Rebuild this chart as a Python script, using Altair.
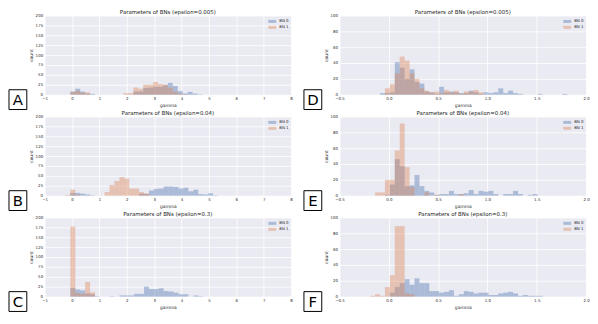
import altair as alt
import pandas as pd

# ---------------- data (bin left edges and counts) -------------
series = ["BN 0", "BN 1"]
titles = ["Parameters of BNs (epsilon=0.005)", "Parameters of BNs (epsilon=0.04)",
          "Parameters of BNs (epsilon=0.3)"]
letters_left = ["A", "B", "C"]
letters_right = ["D", "E", "F"]

left_bin_width = 0.18
right_bin_width = 0.05

left_x_ticks = [-1, 0, 1, 2, 3, 4, 5, 6, 7, 8]
left_y_ticks = [0, 25, 50, 75, 100, 125, 150, 175, 200]
right_x_ticks = [-0.5, 0.0, 0.5, 1.0, 1.5, 2.0]
right_y_ticks = [0, 20, 40, 60, 80, 100]

# Panel A (epsilon=0.005, left)
a_bn0_x0 = [-0.06, 0.12, 0.30, 0.48, 0.66, 2.24, 2.42, 2.60, 2.78, 2.96, 3.14, 3.32, 3.50, 3.68, 3.86, 4.04, 4.22, 4.40, 4.58]
a_bn0_n = [8, 15, 8, 3, 2, 8, 8, 17, 18, 20, 20, 24, 30, 22, 9, 3, 7, 3, 1]
a_bn1_x0 = [-0.06, 0.12, 0.30, 0.48, 1.88, 2.06, 2.24, 2.42, 2.60, 2.78, 2.96, 3.14, 3.32, 3.50, 3.68, 3.86, 4.04]
a_bn1_n = [7, 10, 5, 6, 4, 4, 18, 15, 25, 25, 32, 27, 25, 18, 8, 3, 1]

# Panel B (epsilon=0.04, left)
b_bn0_x0 = [-0.06, 0.12, 0.30, 0.48, 0.66, 2.45, 2.63, 2.81, 2.99, 3.17, 3.35, 3.53, 3.71, 3.89, 4.07, 4.25, 4.43, 4.61, 4.79, 4.97, 5.15]
b_bn0_n = [7, 7, 5, 3, 1, 5, 4, 13, 17, 18, 23, 23, 22, 18, 20, 11, 15, 4, 3, 6, 1]
b_bn1_x0 = [-0.24, -0.06, 0.12, 1.19, 1.37, 1.55, 1.73, 1.91, 2.09, 2.27, 2.45, 2.63]
b_bn1_n = [2, 15, 2, 9, 27, 37, 47, 43, 18, 18, 9, 6]

# Panel C (epsilon=0.3, left)
c_bn0_x0 = [-0.06, 0.12, 0.30, 0.48, 0.66, 0.84, 1.37, 1.73, 1.91, 2.09, 2.27, 2.45, 2.63, 2.81, 2.99, 3.17, 3.35, 3.53, 3.71, 3.89, 4.07, 4.43, 4.61]
c_bn0_n = [22, 18, 16, 8, 6, 1, 1, 3, 3, 3, 7, 7, 25, 19, 19, 21, 14, 13, 10, 6, 6, 3, 1]
c_bn1_x0 = [-0.06, 0.12, 0.30, 0.48, 0.66]
c_bn1_n = [177, 9, 7, 37, 11]

# Panel D (epsilon=0.005, right)
d_bn0_x0 = [-0.09, -0.04, 0.01, 0.06, 0.11, 0.16, 0.21, 0.26, 0.31, 0.36, 0.41, 0.46, 0.51, 0.56, 0.61, 0.66, 0.71, 0.76, 0.81, 0.86, 0.91, 0.96, 1.01, 1.06, 1.11, 1.16, 1.21, 1.26, 1.31, 1.51, 1.76]
d_bn0_n = [2, 2, 3, 41, 34, 20, 32, 16, 14, 4, 3, 1, 10, 3, 4, 3, 2, 2, 5, 3, 1, 3, 2, 3, 8, 2, 5, 2, 1, 1, 1]
d_bn1_x0 = [-0.04, 0.01, 0.06, 0.11, 0.16, 0.21, 0.26, 0.31, 0.36, 0.41, 0.46, 0.51, 0.56, 0.61, 0.66, 0.71, 0.76, 0.81, 0.86, 0.91]
d_bn1_n = [8, 13, 27, 48, 43, 27, 20, 8, 5, 3, 4, 2, 6, 3, 5, 1, 4, 4, 6, 3]

# Panel E (epsilon=0.04, right)
e_bn0_x0 = [-0.04, 0.01, 0.06, 0.11, 0.16, 0.21, 0.26, 0.31, 0.36, 0.41, 0.46, 0.51, 0.56, 0.61, 0.66, 0.71, 0.76, 0.81, 0.86, 0.91, 0.96, 1.01, 1.06, 1.16, 1.21, 1.26, 1.31, 1.41, 1.46]
e_bn0_n = [1, 14, 46, 37, 12, 13, 26, 12, 6, 4, 1, 2, 2, 6, 2, 2, 3, 7, 2, 6, 5, 6, 2, 2, 2, 6, 2, 1, 2]
e_bn1_x0 = [-0.14, -0.09, -0.04, 0.01, 0.06, 0.11, 0.16, 0.21, 0.36, 0.46, 0.71]
e_bn1_n = [4, 4, 20, 20, 57, 91, 36, 11, 4, 1, 2]

# Panel F (epsilon=0.3, right)
f_bn0_x0 = [0.01, 0.06, 0.11, 0.16, 0.21, 0.26, 0.31, 0.36, 0.41, 0.46, 0.51, 0.56, 0.61, 0.66, 0.71, 0.76, 0.81, 0.86, 0.91, 0.96, 1.01, 1.06, 1.11, 1.16, 1.21, 1.26, 1.31, 1.36, 1.41, 1.46, 1.51]
f_bn0_n = [5, 12, 17, 22, 15, 23, 17, 17, 7, 7, 5, 6, 8, 1, 3, 7, 6, 4, 5, 5, 2, 2, 4, 5, 6, 4, 1, 2, 1, 1, 1]
f_bn1_x0 = [-0.19, -0.14, -0.09, -0.04, 0.01, 0.06, 0.11, 0.16, 0.21]
f_bn1_n = [1, 3, 1, 12, 27, 89, 89, 4, 3]

# ---------------- styling ----------------
FONT = "DejaVu Sans"
TXT = "#262626"
COLORS = ["#4C72B0", "#DD8452"]
PLOT_W = 249
PLOT_H = 80


def frame(bn0_x0, bn0_n, bn1_x0, bn1_n):
    rows = []
    for x0, n in zip(bn0_x0, bn0_n):
        rows.append({"series": series[0], "x0": x0, "count": n})
    for x0, n in zip(bn1_x0, bn1_n):
        rows.append({"series": series[1], "x0": x0, "count": n})
    return pd.DataFrame(rows)


def panel(df, width_bin, xdom, xticks, ydom, yticks, xfmt, title, letter):
    bars = alt.Chart(df).transform_calculate(
        x1=f"datum.x0 + {width_bin}"
    ).mark_rect(opacity=0.4, strokeWidth=0).encode(
        x=alt.X("x0:Q", scale=alt.Scale(domain=xdom, nice=False, zero=False),
                axis=alt.Axis(values=xticks, title="gamma", format=xfmt)),
        x2="x1:Q",
        y=alt.Y("count:Q", scale=alt.Scale(domain=ydom, nice=False),
                axis=alt.Axis(values=yticks, title="count")),
        y2=alt.datum(0),
        color=alt.Color("series:N",
                        scale=alt.Scale(domain=series, range=COLORS),
                        legend=alt.Legend(title=None, orient="top-right", offset=2,
                                          padding=0, labelFontSize=4, labelFont=FONT,
                                          labelColor=TXT,
                                          symbolType="M-1,-0.375L1,-0.375L1,0.375L-1,0.375Z",
                                          symbolSize=64, symbolOpacity=0.4,
                                          symbolStrokeWidth=0, rowPadding=0,
                                          labelOffset=3)),
        order=alt.Order("series:N"),
    )
    lab = pd.DataFrame({"label": [letter]})
    box = alt.Chart(lab).mark_rect(fill="white", stroke="black", strokeWidth=1).encode(
        x=alt.value(-36), x2=alt.value(-18), y=alt.value(75), y2=alt.value(95))
    txt = alt.Chart(lab).mark_text(fontSize=15, font=FONT, color="black",
                                   align="center", baseline="middle").encode(
        x=alt.value(-27), y=alt.value(85.5), text="label:N")
    return alt.layer(bars, box, txt).properties(
        width=PLOT_W, height=PLOT_H,
        title=alt.TitleParams(title, fontSize=5.5, fontWeight="normal", font=FONT,
                              color=TXT, offset=-2))


left_sets = [
    frame(a_bn0_x0, a_bn0_n, a_bn1_x0, a_bn1_n),
    frame(b_bn0_x0, b_bn0_n, b_bn1_x0, b_bn1_n),
    frame(c_bn0_x0, c_bn0_n, c_bn1_x0, c_bn1_n),
]
right_sets = [
    frame(d_bn0_x0, d_bn0_n, d_bn1_x0, d_bn1_n),
    frame(e_bn0_x0, e_bn0_n, e_bn1_x0, e_bn1_n),
    frame(f_bn0_x0, f_bn0_n, f_bn1_x0, f_bn1_n),
]

rows = []
for i in range(3):
    lp = panel(left_sets[i], left_bin_width, [-1, 8], left_x_ticks, [0, 200],
               left_y_ticks, "d", titles[i], letters_left[i])
    rp = panel(right_sets[i], right_bin_width, [-0.5, 2.0], right_x_ticks, [0, 100],
               right_y_ticks, ".1f", titles[i], letters_right[i])
    row = alt.hconcat(lp, rp, spacing=10).resolve_scale(
        color="independent").resolve_legend(color="independent")
    rows.append(row)

chart = alt.vconcat(*rows, spacing=0).resolve_scale(
    color="independent").resolve_legend(color="independent").properties(
    padding=0, background="white"
).configure_view(
    fill="#EAEAF2", stroke="transparent"
).configure_axis(
    grid=True, gridColor="white", gridWidth=0.8, domain=False, ticks=False,
    labelFontSize=4, labelFont=FONT, labelColor=TXT, labelPadding=2,
    titleFontSize=4.5, titleFont=FONT, titleColor=TXT, titleFontWeight="normal",
    titlePadding=2, labelOverlap=False, labelFlush=False
)

chart.save("out.html", embed_options={"renderer": "svg", "actions": False})
